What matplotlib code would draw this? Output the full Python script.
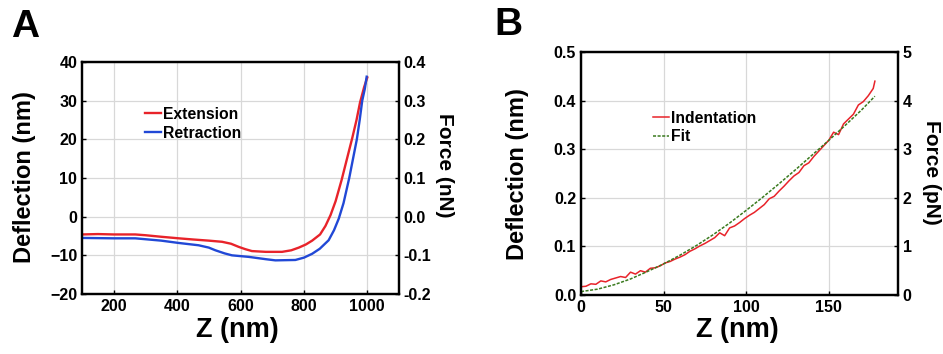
import matplotlib
matplotlib.use("Agg")
import matplotlib.pyplot as plt

plt.rcParams['font.family'] = ['Liberation Sans', 'DejaVu Sans']
plt.rcParams['font.weight'] = 'bold'

# panel A: deflection vs Z
z_a = [100, 150, 200, 268, 300, 350, 405, 450, 500, 542, 570, 594, 615, 636, 680, 731,
       760, 784, 806, 826, 851, 868, 884, 900, 919, 936, 953, 966, 977, 990, 1000]
ext = [-4.6, -4.5, -4.6, -4.6, -4.8, -5.2, -5.6, -5.9, -6.2, -6.5, -7.0, -7.8, -8.4, -8.9, -9.1, -9.1,
       -8.7, -8.0, -7.2, -6.2, -4.6, -2.4, 0.4, 4.0, 9.5, 15.0, 20.5, 25.0, 29.5, 33.5, 36.0]
z_r = [100, 200, 268, 350, 405, 468, 500, 521, 550, 573, 626, 680, 710, 773, 800, 826,
       850, 878, 895, 910, 925, 943, 955, 967, 976, 984, 992, 998]
ret = [-5.5, -5.6, -5.6, -6.2, -6.8, -7.4, -8.0, -8.7, -9.5, -10.0, -10.4, -11.0, -11.3, -11.2,
       -10.6, -9.6, -8.3, -6.1, -3.5, -0.5, 3.5, 10.0, 15.0, 20.0, 25.0, 30.0, 33.0, 36.2]

# panel B: indentation and fit
z_b = [0, 3, 6, 9, 12, 15, 18, 21, 24, 27, 30, 33, 36, 39, 42, 45, 48, 51, 54, 57,
       60, 63, 66, 69, 72, 75, 78, 81, 84, 87, 90, 93, 96, 99, 102, 105, 108, 111,
       114, 117, 120, 123, 126, 129, 132, 135, 138, 141, 144, 147, 150, 153, 156,
       159, 162, 165, 168, 171, 174, 177, 178]
indent = [0.017, 0.018, 0.023, 0.022, 0.029, 0.027, 0.032, 0.035, 0.038, 0.036, 0.047, 0.043,
          0.050, 0.047, 0.055, 0.056, 0.060, 0.066, 0.069, 0.074, 0.078, 0.083, 0.090, 0.095,
          0.101, 0.106, 0.112, 0.118, 0.128, 0.122, 0.138, 0.142, 0.149, 0.157, 0.164, 0.170,
          0.178, 0.186, 0.198, 0.203, 0.214, 0.224, 0.235, 0.245, 0.252, 0.266, 0.272, 0.285,
          0.296, 0.307, 0.318, 0.335, 0.330, 0.352, 0.362, 0.372, 0.391, 0.398, 0.410, 0.425, 0.440]
z_fit = [0, 10, 20, 30, 40, 50, 60, 70, 80, 90, 100, 110, 120, 130, 140, 150, 160, 170, 178]
fit = [0.007, 0.012, 0.021, 0.033, 0.048, 0.064, 0.082, 0.102, 0.124, 0.148, 0.174,
       0.201, 0.229, 0.258, 0.288, 0.318, 0.349, 0.381, 0.409]

fig = plt.figure(figsize=(9.43, 3.54), dpi=100)
W, H = 943, 354


def style(ax):
    ax.grid(True, color='#d8d8d8', linewidth=0.9)
    ax.set_axisbelow(True)
    for s in ax.spines.values():
        s.set_linewidth(1.6)
    ax.tick_params(direction='in', length=3, labelsize=11.5, width=1)
    for lab in ax.get_xticklabels() + ax.get_yticklabels():
        lab.set_fontweight('bold')


# ---- A
axA = fig.add_axes([82 / W, 1 - 294 / H, (399 - 82) / W, (294 - 62) / H])
axA.plot(z_a, ext, color='#e8232a', lw=1.7, label='Extension')
axA.plot(z_r, ret, color='#2148d6', lw=1.7, label='Retraction')
axA.set_xlim(100, 1100)
axA.set_ylim(-20, 40)
axA.set_xticks([200, 400, 600, 800, 1000])
axA.set_yticks([-20, -10, 0, 10, 20, 30, 40])
style(axA)
axA.set_xlabel('Z (nm)', fontsize=19.5, fontweight='bold')
axA.set_ylabel('Deflection (nm)', fontsize=17, fontweight='bold')
axA.legend(loc='upper left', bbox_to_anchor=(0.175, 0.84), frameon=False, fontsize=11.3,
           handlelength=1.0, handletextpad=0.1, labelspacing=0.25, borderpad=0)
axA2 = axA.twinx()
axA2.set_ylim(-0.2, 0.4)
axA2.set_yticks([-0.2, -0.1, 0.0, 0.1, 0.2, 0.3, 0.4])
axA2.set_yticklabels(['-0.2', '-0.1', '0.0', '0.1', '0.2', '0.3', '0.4'])
style(axA2)
axA2.grid(False)
axA2.set_ylabel('Force (nN)', fontsize=15, fontweight='bold', rotation=270)
axA.xaxis.set_label_coords(0.49, -0.155)
axA.yaxis.set_label_coords(-0.18, 0.505)
axA2.yaxis.set_label_coords(1.145, 0.556)
for lab in (axA.xaxis.label, axA.yaxis.label, axA2.yaxis.label):
    lab.set_va('center')
    lab.set_ha('center')
fig.text(11 / W, 1 - 37 / H, 'A', fontsize=28, fontweight='bold', va='baseline')

# ---- B
axB = fig.add_axes([581 / W, 1 - 295 / H, (898 - 581) / W, (295 - 52) / H])
axB.plot(z_b, indent, color='#e8232a', lw=1.1, label='Indentation')
axB.plot(z_fit, fit, color='#3a7a1e', lw=1.1, ls=(0, (2, 1)), label='Fit')
axB.set_xlim(0, 192)
axB.set_ylim(0, 0.5)
axB.set_xticks([0, 50, 100, 150])
axB.set_yticks([0.0, 0.1, 0.2, 0.3, 0.4, 0.5])
axB.set_yticklabels(['0.0', '0.1', '0.2', '0.3', '0.4', '0.5'])
style(axB)
axB.set_xlabel('Z (nm)', fontsize=19.5, fontweight='bold')
axB.set_ylabel('Deflection (nm)', fontsize=17, fontweight='bold')
axB.legend(loc='upper left', bbox_to_anchor=(0.203, 0.79), frameon=False, fontsize=11.3,
           handlelength=1.0, handletextpad=0.15, labelspacing=0.2, borderpad=0)
axB2 = axB.twinx()
axB2.set_ylim(0, 5)
axB2.set_yticks([0, 1, 2, 3, 4, 5])
style(axB2)
axB2.grid(False)
axB2.set_ylabel('Force (pN)', fontsize=15, fontweight='bold', rotation=270)
axB.xaxis.set_label_coords(0.492, -0.144)
axB.yaxis.set_label_coords(-0.199, 0.498)
axB2.yaxis.set_label_coords(1.107, 0.506)
for lab in (axB.xaxis.label, axB.yaxis.label, axB2.yaxis.label):
    lab.set_va('center')
    lab.set_ha('center')
fig.text(494 / W, 1 - 35 / H, 'B', fontsize=28, fontweight='bold', va='baseline')

fig.savefig('out.png', dpi=100)
